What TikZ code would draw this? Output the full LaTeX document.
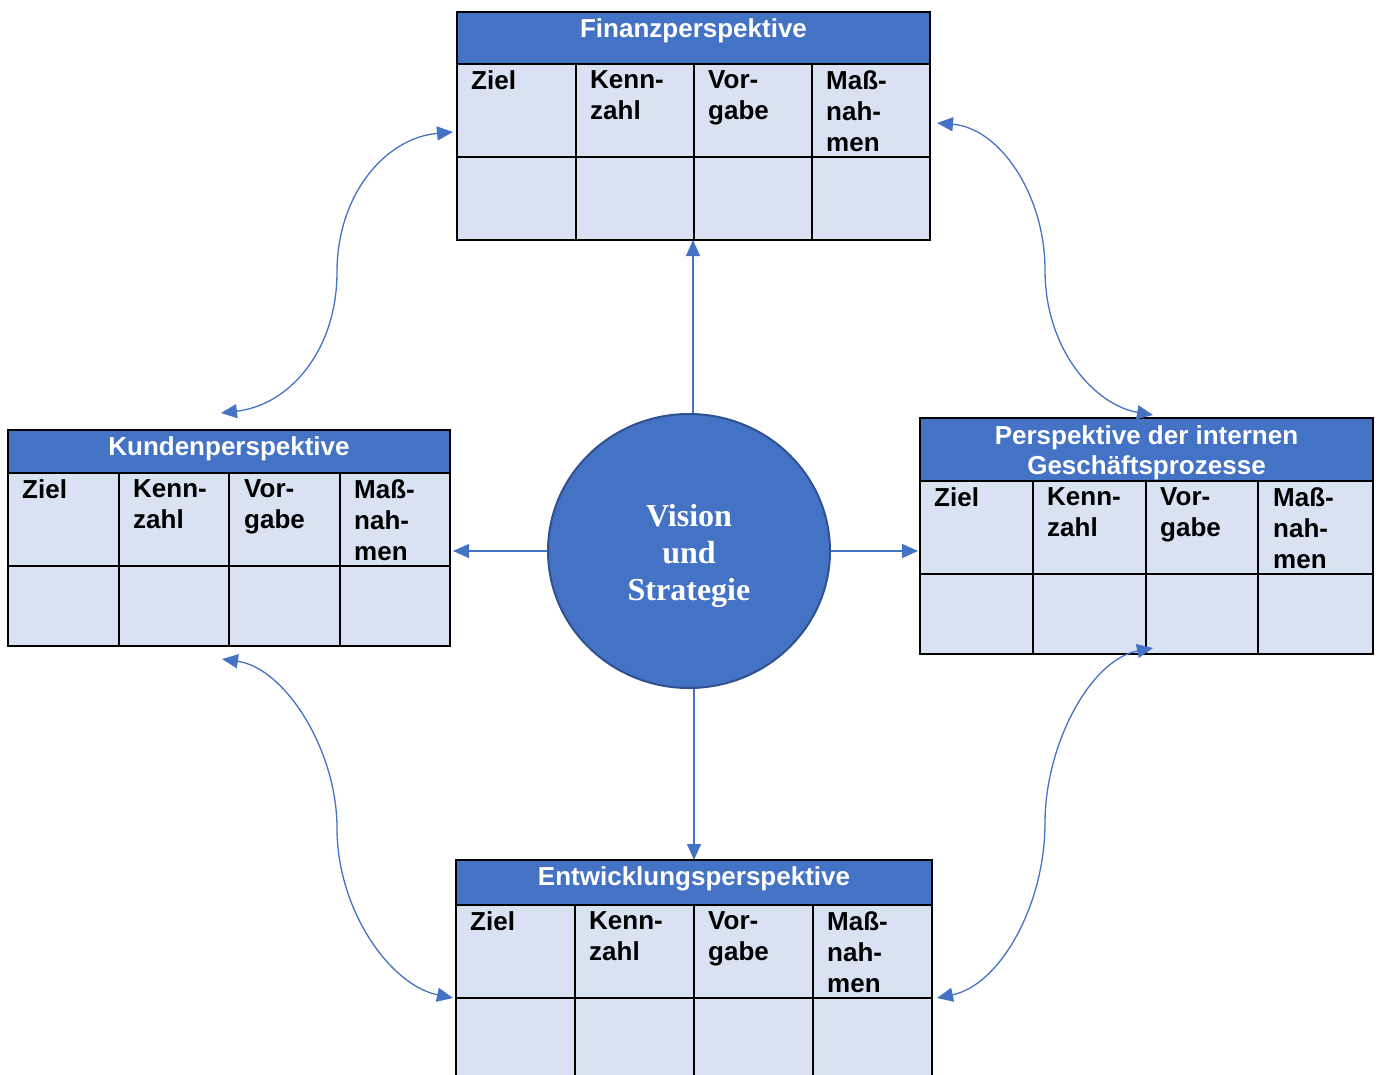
\documentclass[tikz,border=0pt]{standalone}
\usepackage{fontspec}
\setmainfont{Liberation Serif}
\setsansfont{Liberation Sans}
\usetikzlibrary{arrows.meta,shapes.geometric}
\definecolor{kopfblau}{HTML}{4472C4}
\definecolor{zellblau}{HTML}{D9E2F3}
\definecolor{randblau}{HTML}{2F528F}
\tikzset{
  rahmen/.style={draw=black, line width=2pt, inner sep=0pt, outer sep=0pt, anchor=north west},
  gitter/.style={draw=black, line width=2pt},
  kopf/.style={anchor=north, inner sep=0pt, text=white, align=center,
    font=\sffamily\bfseries\fontsize{26}{30}\selectfont},
  eintrag/.style={anchor=north west, inner sep=0pt, align=left,
    font=\sffamily\bfseries\fontsize{26}{31}\selectfont},
  pfeil/.style={draw=kopfblau, line width=1.3pt, -{Triangle[length=16pt,width=14pt]}},
  doppelpfeil/.style={pfeil, {Triangle[length=16pt,width=14pt]}-{Triangle[length=16pt,width=14pt]}},
}
\begin{document}
\begin{tikzpicture}[x=1pt, y=-1pt]
\clip (0,0) rectangle (1379,1074);

\fill[zellblau] (457,12) rectangle (930,240);
\fill[kopfblau] (457,12) rectangle (930,64);
\draw[gitter] (457,64) -- (930,64) (457,157) -- (930,157)
  (576,64) -- (576,240) (694,64) -- (694,240) (812,64) -- (812,240);
\node[rahmen, minimum width=473pt, minimum height=228pt] (finanz) at (457,12) {};
\node[kopf] (f0) at (693.5,18) {Finanzperspektive};
\node[eintrag] (f1) at (471,70) {Ziel};
\node[eintrag] (f2) at (590,70) {Kenn-\\zahl};
\node[eintrag] (f3) at (708,70) {Vor-\\gabe};
\node[eintrag] (f4) at (826,70) {Maß-\\nah-\\men};

\fill[zellblau] (8,430) rectangle (450,646);
\fill[kopfblau] (8,430) rectangle (450,473);
\draw[gitter] (8,473) -- (450,473) (8,566) -- (450,566)
  (119,473) -- (119,646) (229,473) -- (229,646) (340,473) -- (340,646);
\node[rahmen, minimum width=442pt, minimum height=216pt] (kunden) at (8,430) {};
\node[kopf] (k0) at (229,436) {Kundenperspektive};
\node[eintrag] (k1) at (22,479) {Ziel};
\node[eintrag] (k2) at (133,479) {Kenn-\\zahl};
\node[eintrag] (k3) at (244,479) {Vor-\\gabe};
\node[eintrag] (k4) at (354,479) {Maß-\\nah-\\men};

\fill[zellblau] (920,418) rectangle (1373,654);
\fill[kopfblau] (920,418) rectangle (1373,481);
\draw[gitter] (920,481) -- (1373,481) (920,574) -- (1373,574)
  (1033,481) -- (1033,654) (1146,481) -- (1146,654) (1258,481) -- (1258,654);
\node[rahmen, minimum width=453pt, minimum height=236pt] (intern) at (920,418) {};
\node[kopf] (i0) at (1146.5,425) {Perspektive der internen\\Geschäftsprozesse};
\node[eintrag] (i1) at (934,487) {Ziel};
\node[eintrag] (i2) at (1047,487) {Kenn-\\zahl};
\node[eintrag] (i3) at (1160,487) {Vor-\\gabe};
\node[eintrag] (i4) at (1273,487) {Maß-\\nah-\\men};

\fill[zellblau] (456,860) rectangle (932,1080);
\fill[kopfblau] (456,860) rectangle (932,905);
\draw[gitter] (456,905) -- (932,905) (456,998) -- (932,998)
  (575,905) -- (575,1080) (694,905) -- (694,1080) (813,905) -- (813,1080);
\node[rahmen, minimum width=476pt, minimum height=220pt] (entwicklung) at (456,860) {};
\node[kopf] (e0) at (694,866) {Entwicklungsperspektive};
\node[eintrag] (e1) at (470,911) {Ziel};
\node[eintrag] (e2) at (589,911) {Kenn-\\zahl};
\node[eintrag] (e3) at (708,911) {Vor-\\gabe};
\node[eintrag] (e4) at (827,911) {Maß-\\nah-\\men};

\node[ellipse, fill=kopfblau, draw=randblau, line width=2pt, minimum width=282pt,
  minimum height=274pt] (vision) at (689,551) {};
\node[text=white, align=center, font=\bfseries\fontsize{32}{37}\selectfont]
  (vtext) at (689,556) {Vision\\und\\Strategie};

\coordinate (fs) at ([xshift=-0.5pt]finanz.south);
\draw[pfeil] (vision.north -| fs) -- (fs);
\draw[pfeil] (vision.south -| entwicklung.north) -- (entwicklung.north);
\draw[pfeil, shorten >=3pt] (vision.west) -- (vision.west -| kunden.east);
\draw[pfeil, shorten >=2pt] (vision.east) -- (vision.east -| intern.west);

\coordinate (fl) at (453,132);
\coordinate (fr) at (937,123);
\coordinate (ko) at (221,413);
\coordinate (ku) at (222,659);
\coordinate (io) at (1153,415);
\coordinate (iu) at (1153,648);
\coordinate (el) at (453,998);
\coordinate (er) at (937,998);

\draw[doppelpfeil] (ko) .. controls (290,405) and (337,350) .. (337,272)
  .. controls (337,195) and (385,138) .. (fl);
\draw[doppelpfeil] (fr) .. controls (1000,128) and (1045,195) .. (1045,270)
  .. controls (1045,350) and (1095,405) .. (io);
\draw[doppelpfeil] (ku) .. controls (285,668) and (337,750) .. (337,828)
  .. controls (337,910) and (390,985) .. (el);
\draw[doppelpfeil] (iu) .. controls (1090,660) and (1045,745) .. (1045,823)
  .. controls (1045,905) and (1000,985) .. (er);
\end{tikzpicture}
\end{document}
